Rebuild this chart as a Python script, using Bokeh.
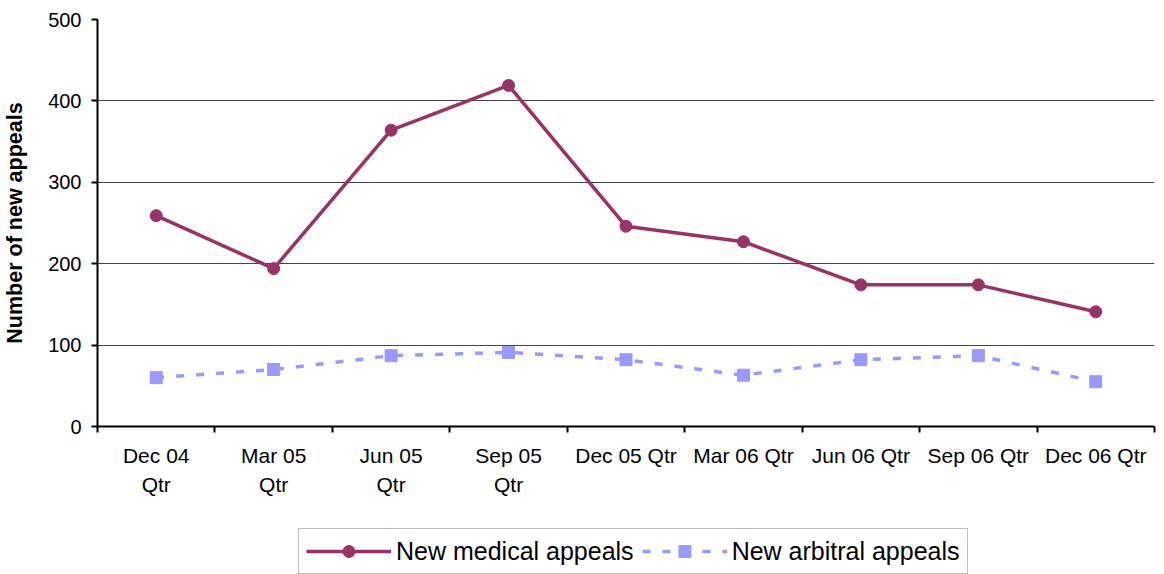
from bokeh.plotting import figure
from bokeh.models import FixedTicker, Legend, LegendItem, Range1d
from bokeh.layouts import column
from bokeh.embed import file_html
from bokeh.resources import INLINE

categories = ["Dec 04\nQtr", "Mar 05\nQtr", "Jun 05\nQtr", "Sep 05\nQtr", "Dec 05 Qtr",
              "Mar 06 Qtr", "Jun 06 Qtr", "Sep 06 Qtr", "Dec 06 Qtr"]
medical = [259, 194, 364, 419, 246, 227, 174, 174, 141]
arbitral = [60, 70, 87, 91, 82, 63, 82, 87, 55]
y_ticks = [0, 100, 200, 300, 400, 500]
series_names = ["New medical appeals", "New arbitral appeals"]

xs = list(range(len(categories)))
FONT = "Liberation Sans"
MED = "#993366"
ARB = "#9999FF"

p = figure(width=1156, height=510, output_backend="svg", toolbar_location=None,
           x_range=Range1d(-0.5, len(categories) - 0.5), y_range=Range1d(0, 500),
           min_border_left=87, min_border_right=2, min_border_top=19, min_border_bottom=84)
p.outline_line_color = None
p.background_fill_color = "white"
p.border_fill_color = "white"

p.xgrid.grid_line_color = None
p.ygrid.grid_line_color = "#444444"
p.ygrid.grid_line_width = 1
p.ygrid.ticker = FixedTicker(ticks=y_ticks)

# x axis
xa = p.xaxis[0]
xa.ticker = FixedTicker(ticks=xs, minor_ticks=[x - 0.5 for x in xs] + [len(xs) - 0.5])
xa.major_label_overrides = {x: c for x, c in zip(xs, categories)}
xa.major_tick_out = 0
xa.major_tick_in = 0
xa.minor_tick_out = 6
xa.minor_tick_in = 0
xa.minor_tick_line_width = 2
xa.minor_tick_line_color = "black"
xa.axis_line_width = 2
xa.axis_line_color = "black"
xa.major_label_text_font = FONT
xa.major_label_text_font_size = "21px"
xa.major_label_text_color = "black"
xa.major_label_text_line_height = 1.27
xa.major_label_standoff = 11

# y axis
ya = p.yaxis[0]
ya.ticker = FixedTicker(ticks=y_ticks)
ya.major_tick_out = 6
ya.major_tick_in = 0
ya.minor_tick_out = 0
ya.minor_tick_in = 0
ya.major_tick_line_width = 2
ya.axis_line_width = 2
ya.axis_line_color = "black"
ya.major_label_text_font = FONT
ya.major_label_text_font_size = "20px"
ya.major_label_text_color = "black"
ya.major_label_standoff = 10
ya.axis_label = "Number of new appeals"
ya.axis_label_text_font = FONT
ya.axis_label_text_font_size = "21.5px"
ya.axis_label_text_font_style = "bold"
ya.axis_label_text_color = "black"
ya.axis_label_standoff = 18

p.line(xs, medical, line_color=MED, line_width=3.5)
p.scatter(xs, medical, marker="circle", size=12, fill_color=MED, line_color=MED)
p.line(xs, arbitral, line_color=ARB, line_width=3.5, line_dash="8 12")
p.scatter(xs, arbitral, marker="square", size=12, fill_color=ARB, line_color=ARB)

# legend strip below the chart (frame aligned with the chart's frame)
p2 = figure(width=1156, height=64, output_backend="svg", toolbar_location=None,
            x_range=Range1d(0, 1), y_range=Range1d(0, 1),
            min_border_left=87, min_border_right=2, min_border_top=0, min_border_bottom=0,
            x_axis_location=None, y_axis_location=None)
p2.outline_line_color = None
p2.grid.visible = False
# off-screen proxies so the legend can draw each series' line and marker
d1 = p2.line([-5, -4], [-5, -5], line_color=MED, line_width=3.5)
e1 = p2.scatter([-5], [-5], marker="circle", size=12, fill_color=MED, line_color=MED)
d2 = p2.line([-5, -4], [-5, -5], line_color=ARB, line_width=3.5, line_dash="8 12")
e2 = p2.scatter([-5], [-5], marker="square", size=12, fill_color=ARB, line_color=ARB)

legend = Legend(items=[LegendItem(label=series_names[0], renderers=[d1, e1]),
                       LegendItem(label=series_names[1], renderers=[d2, e2])],
                orientation="horizontal", location=(201, 0))
legend.glyph_width = 85
legend.glyph_height = 30
legend.label_text_font = FONT
legend.label_text_font_size = "25px"
legend.label_text_color = "black"
legend.label_standoff = 5
legend.spacing = 8
legend.padding = 7
legend.margin = 0
legend.border_line_color = "#808080"
legend.border_line_width = 1
legend.background_fill_alpha = 1
p2.add_layout(legend, "center")

layout = column(p, p2, spacing=0)
open("out.html", "w").write(file_html(layout, INLINE))
